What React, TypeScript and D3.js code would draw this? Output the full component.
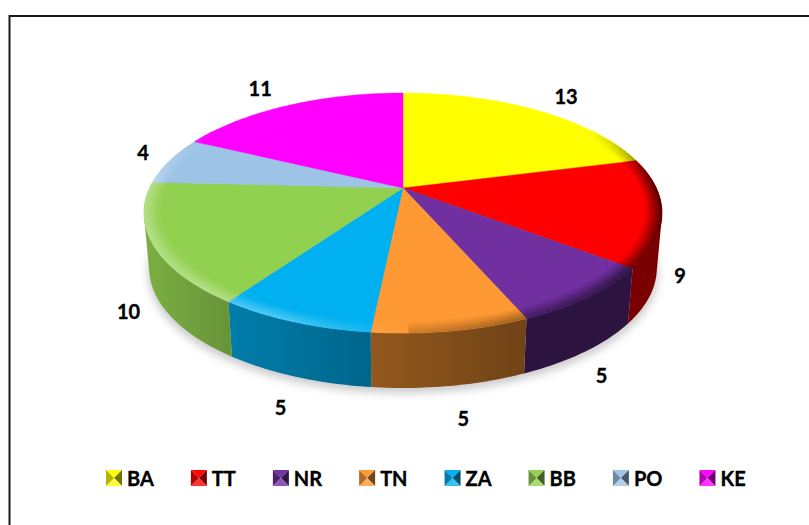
import React, { useEffect, useRef } from 'react';
import * as d3 from 'd3';

const categories = ['BA', 'TT', 'NR', 'TN', 'ZA', 'BB', 'PO', 'KE'];
const values = [13, 9, 5, 5, 5, 10, 4, 11];
const colors = ['#ffff00', '#ff0000', '#7030a0', '#ff9933', '#00b0f0', '#92d050', '#9dc3e6', '#ff00ff'];
// label nudges away from the rim point of each slice
const labelNudges = [[30, -14], [18, 63], [13, 78], [12, 87], [-13, 85], [-24, 67], [-27, -9], [-29, -17]];

const FONT = 'Lato, "Open Sans", sans-serif';
const WIDTH = 809;
const HEIGHT = 525;

// perspective pie: centre sits above the middle of the rim ellipse
const cx = 403;
const cy = 188;
const rx = 253.3;
const ry = 114.8;
const persp = 0.2083;
const depth = 55;

const project = (theta: number, r = 1, sx = 1, dy = 0): [number, number] => {
  const u = Math.sin(theta) * r;
  const v = -Math.cos(theta) * r;
  const d = 1 - persp * v;
  return [cx + (rx * sx * u) / d, cy + dy + (ry * v) / d];
};

const mix = (a: string, b: string, t: number) => d3.interpolateRgb(a, b)(Math.max(0, Math.min(1, t)));

// sampled angles of one slice, about one degree apart
const sampleAngles = (a0: number, a1: number) => {
  const n = Math.max(2, Math.ceil((a1 - a0) / (Math.PI / 180)));
  return d3.range(n + 1).map(i => a0 + ((a1 - a0) * i) / n);
};

const App: React.FC = () => {
  const svgRef = useRef<SVGSVGElement>(null);

  useEffect(() => {
    if (!svgRef.current) return;
    const svg = d3.select(svgRef.current);
    svg.selectAll('*').remove();

    const pie = d3.pie<number>().sort(null).value(d => d);
    const arcs = pie(values);
    const line = d3.line();
    const defs = svg.append('defs');

    defs.append('filter')
      .attr('id', 'pie-shadow')
      .attr('x', '-10%').attr('y', '-10%').attr('width', '120%').attr('height', '120%')
      .append('feGaussianBlur')
      .attr('stdDeviation', 4);

    // frame: only the top and left edges are drawn
    svg.append('path')
      .attr('d', line([[9.5, HEIGHT], [9.5, 16], [WIDTH, 16]])!)
      .attr('fill', 'none')
      .attr('stroke', '#1a1a1a')
      .attr('stroke-width', 2);

    // soft shadow under the pie
    const rim = sampleAngles(0, 2 * Math.PI);
    svg.append('path')
      .attr('d', line(rim.map(t => project(t, 1, 0.985, depth + 5)))!)
      .attr('fill', '#a8a8a8')
      .attr('opacity', 0.6)
      .attr('filter', 'url(#pie-shadow)');

    // side wall, gradient-filled per slice and darker to the right.
    // Quads share one winding so the fold at the silhouette does not punch a hole.
    const sideG = svg.append('g');
    arcs.forEach((arc, i) => {
      const front = sampleAngles(arc.startAngle, arc.endAngle).filter(t => -Math.cos(t) > -0.35);
      if (front.length < 2) return;
      const shadeAt = (t: number) => mix(colors[i], '#000', i === 1 ? 0.52 : i === 2 ? 0.6 : 0.45 + 0.28 * Math.sin(t));
      const grad = defs.append('linearGradient')
        .attr('id', `side-${i}`)
        .attr('gradientUnits', 'userSpaceOnUse')
        .attr('x1', project(front[0])[0]).attr('x2', project(front[front.length - 1])[0])
        .attr('y1', 0).attr('y2', 0);
      grad.append('stop').attr('offset', 0).attr('stop-color', shadeAt(front[0]));
      grad.append('stop').attr('offset', 1).attr('stop-color', shadeAt(front[front.length - 1]));
      const d = d3.pairs(front).map(([t0, t1]) => {
        const quad: [number, number][] = [
          project(t0), project(t1),
          project(t1, 1, 0.98, depth), project(t0, 1, 0.98, depth),
        ];
        if (d3.polygonArea(quad) < 0) quad.reverse();
        return line(quad)! + 'Z';
      }).join('');
      sideG.append('path')
        .attr('d', d)
        .attr('fill', `url(#side-${i})`)
        .attr('fill-rule', 'nonzero');
    });

    // top face
    const topG = svg.append('g');
    arcs.forEach((arc, i) => {
      const pts = sampleAngles(arc.startAngle, arc.endAngle).map(t => project(t));
      topG.append('path')
        .attr('d', line([[cx, cy], ...pts])! + 'Z')
        .attr('fill', colors[i])
        .attr('stroke', colors[i])
        .attr('stroke-width', 0.4);
    });

    // bevel along the front rim: lit on the left, shaded on the right
    const bevelG = svg.append('g');
    const bands = d3.range(7);
    arcs.forEach((arc, i) => {
      const angles = sampleAngles(arc.startAngle, arc.endAngle);
      d3.pairs(angles).forEach(([t0, t1]) => {
        const mid = (t0 + t1) / 2;
        const u = Math.sin(mid);
        const v = -Math.cos(mid);
        const fade = Math.max(0, Math.min(1, (v + 0.55) / 0.5));
        if (fade <= 0) return;
        const edge = u < 0.02
          ? mix(colors[i], '#fff', 0.3 * Math.min(1, -u * 2.5) + 0.02)
          : mix(colors[i], '#000', 0.18 + 0.5 * u);
        bands.forEach(b => {
          const r0 = 1 - ((b + 1) / bands.length) * 0.06;
          const r1 = 1 - (b / bands.length) * 0.06;
          const c = mix(colors[i], edge, fade * (1 - b / bands.length));
          const pts: [number, number][] = [project(t0, r1), project(t1, r1), project(t1, r0), project(t0, r0)];
          bevelG.append('path')
            .attr('d', line(pts)! + 'Z')
            .attr('fill', c)
            .attr('stroke', c)
            .attr('stroke-width', 0.4);
        });
      });
    });

    // data labels
    svg.append('g')
      .selectAll('text')
      .data(arcs)
      .enter()
      .append('text')
      .attr('x', (d, i) => project((d.startAngle + d.endAngle) / 2)[0] + labelNudges[i][0])
      .attr('y', (d, i) => project((d.startAngle + d.endAngle) / 2)[1] + labelNudges[i][1])
      .attr('text-anchor', 'middle')
      .attr('dominant-baseline', 'central')
      .style('font-family', FONT)
      .style('font-size', '20px')
      .style('font-weight', 'bold')
      .style('fill', '#000')
      .style('stroke', '#000')
      .style('stroke-width', '0.35px')
      .text(d => d.data);

    // legend, flowed by the width of each label
    const swatch = 16;
    const legendY = 470;
    let x = 106;
    categories.forEach((name, i) => {
      const g = svg.append('g').attr('transform', `translate(${x}, ${legendY})`);
      const m = swatch / 2;
      const corners: [number, number][] = [[0, 0], [swatch, 0], [swatch, swatch], [0, swatch]];
      const facets = [mix(colors[i], '#fff', 0.02), mix(colors[i], '#000', 0.55), mix(colors[i], '#fff', 0.2), mix(colors[i], '#000', 0.3)];
      facets.forEach((c, k) => {
        g.append('path')
          .attr('d', line([corners[k], corners[(k + 1) % 4], [m, m]])! + 'Z')
          .attr('fill', c);
      });
      const label = g.append('text')
        .attr('x', swatch + 5)
        .attr('y', m)
        .attr('dominant-baseline', 'central')
        .style('font-family', FONT)
        .style('font-size', '20px')
        .style('font-weight', 'bold')
        .style('fill', '#000')
        .style('stroke', '#000')
        .style('stroke-width', '0.35px')
        .text(name);
      const w = (label.node() as SVGTextElement).getComputedTextLength();
      x += w + 58;
    });
  }, []);

  return (
    <svg
      ref={svgRef}
      width={WIDTH}
      height={HEIGHT}
      style={{ position: 'absolute', left: 0, top: 0, background: '#fff' }}
    />
  );
};

export default App;
